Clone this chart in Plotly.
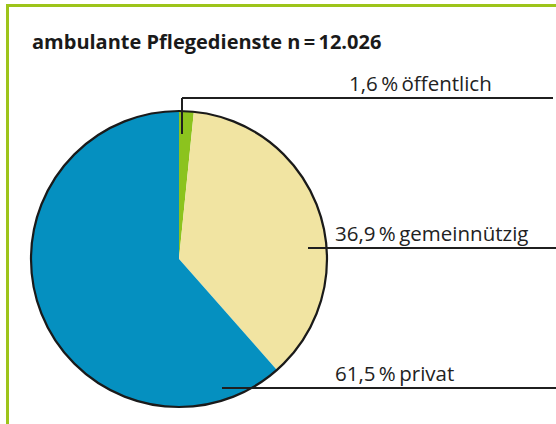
import plotly.graph_objects as go

# ---- data ----
categories = ["öffentlich", "gemeinnützig", "privat"]
shares = [1.6, 36.9, 61.5]
share_labels = ["1,6", "36,9", "61,5"]
colors = ["#8cc31e", "#f1e4a2", "#0590c0"]
title_text = "ambulante Pflegedienste n\u2009=\u200912.026"

W, H = 556, 424
def px(x):
    return x / W
def py(y):
    return 1 - y / H

# pie geometry (pixels)
cx, cy, r = 179, 259, 148

fig = go.Figure()
fig.add_trace(go.Pie(
    labels=categories, values=shares, sort=False, direction="clockwise",
    rotation=0, textinfo="none", hoverinfo="label+percent",
    marker=dict(colors=colors, line=dict(width=0)),
    domain=dict(x=[px(cx - r), px(cx + r)], y=[py(cy + r), py(cy - r)]),
    showlegend=False,
))

shapes = []
# pie outline
shapes.append(dict(type="circle", xref="paper", yref="paper",
                   x0=px(cx - r), x1=px(cx + r), y0=py(cy + r), y1=py(cy - r),
                   line=dict(color="#1a1a1a", width=2.2)))
# frame lines (green)
green = "#9dc41a"
shapes.append(dict(type="line", xref="paper", yref="paper",
                   x0=px(6), x1=px(556), y0=py(5.5), y1=py(5.5),
                   line=dict(color=green, width=3)))
shapes.append(dict(type="line", xref="paper", yref="paper",
                   x0=px(7.5), x1=px(7.5), y0=py(4), y1=py(424),
                   line=dict(color=green, width=3)))

# leader lines
lc = "#1f1f1f"
leaders = [
    [(182, 134), (182, 98), (553, 98)],
    [(308, 248), (556, 248)],
    [(222, 388), (556, 388)],
]
for pts in leaders:
    for (x0, y0), (x1, y1) in zip(pts[:-1], pts[1:]):
        shapes.append(dict(type="line", xref="paper", yref="paper",
                           x0=px(x0), x1=px(x1), y0=py(y0), y1=py(y1),
                           line=dict(color=lc, width=2)))

annotations = []
label_x = [347, 333, 333]
label_y = [98, 248, 388]
for lab, cat, lx, ly in zip(share_labels, categories, label_x, label_y):
    annotations.append(dict(
        xref="paper", yref="paper", x=px(lx), y=py(ly + 1),
        xanchor="left", yanchor="bottom", showarrow=False,
        text=f"{lab}\u2009%\u2009{cat}",
        font=dict(family="Open Sans", size=20.5, color="#222222"),
    ))
annotations.append(dict(
    xref="paper", yref="paper", x=px(30), y=py(41),
    xanchor="left", yanchor="middle", showarrow=False,
    text=f"<b>{title_text}</b>",
    font=dict(family="Open Sans", size=20, color="#1a1a1a"),
))

fig.update_layout(
    width=W, height=H, margin=dict(l=0, r=0, t=0, b=0),
    paper_bgcolor="white", plot_bgcolor="white",
    shapes=shapes, annotations=annotations,
)

fig.write_html("out.html", config={"displayModeBar": False},
               post_script="document.body.style.margin='0';")
